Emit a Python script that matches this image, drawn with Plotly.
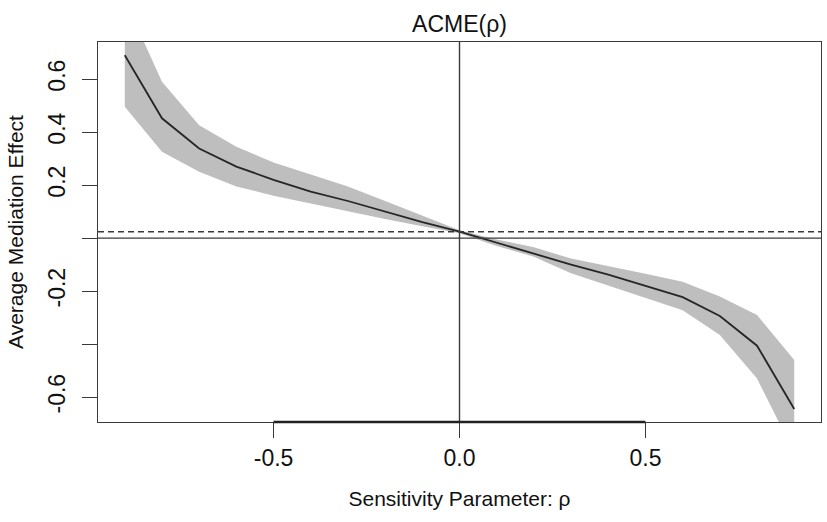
import plotly.graph_objects as go

# ---- data ----
rho = [-0.9, -0.8, -0.7, -0.6, -0.5, -0.4, -0.3, -0.2, -0.1, 0.0,
       0.1, 0.2, 0.3, 0.4, 0.5, 0.6, 0.7, 0.8, 0.9]
acme = [0.69, 0.452, 0.338, 0.27, 0.22, 0.175, 0.14, 0.10, 0.06, 0.024,
        -0.018, -0.06, -0.10, -0.138, -0.18, -0.223, -0.294, -0.406, -0.645]
ci_upper = [0.90, 0.59, 0.426, 0.345, 0.285, 0.24, 0.195, 0.14, 0.085, 0.03,
            -0.005, -0.035, -0.077, -0.105, -0.135, -0.165, -0.22, -0.29, -0.46]
ci_lower = [0.496, 0.326, 0.25, 0.195, 0.16, 0.13, 0.10, 0.072, 0.045, 0.018,
            -0.03, -0.07, -0.133, -0.18, -0.225, -0.272, -0.366, -0.53, -0.81]

x_ticks = [-0.5, 0.0, 0.5]
x_ticklabels = ["-0.5", "0.0", "0.5"]
y_ticks = [-0.6, -0.4, -0.2, 0.0, 0.2, 0.4, 0.6]
y_ticklabels = ["-0.6", "", "-0.2", "", "0.2", "0.4", "0.6"]

title_text = "ACME(ρ)"
x_title = "Sensitivity Parameter: ρ"
y_title = "Average Mediation Effect"

acme_at_zero = acme[rho.index(0.0)]

FONT = "Liberation Sans, Arial, Helvetica, sans-serif"
AXC = "#3a3a3a"

fig = go.Figure()
fig.add_trace(go.Scatter(x=rho, y=ci_lower, mode="lines",
                         line=dict(width=0, color="#bebebe"),
                         hoverinfo="skip", showlegend=False))
fig.add_trace(go.Scatter(x=rho, y=ci_upper, mode="lines",
                         line=dict(width=0, color="#bebebe"),
                         fill="tonexty", fillcolor="#bebebe",
                         hoverinfo="skip", showlegend=False))
fig.add_trace(go.Scatter(x=rho, y=acme, mode="lines",
                         line=dict(width=1.8, color="#262626"),
                         showlegend=False))

# reference lines
fig.add_shape(type="line", xref="paper", yref="y", x0=0, x1=1, y0=0, y1=0,
              line=dict(color=AXC, width=1.4))
fig.add_shape(type="line", xref="paper", yref="y", x0=0, x1=1,
              y0=acme_at_zero, y1=acme_at_zero,
              line=dict(color=AXC, width=1.4, dash="6px,4px"))
fig.add_shape(type="line", xref="x", yref="paper", x0=0, x1=0, y0=0, y1=1,
              line=dict(color=AXC, width=1.4))
# R-style axis line between first and last tick
fig.add_shape(type="line", xref="x", yref="paper", x0=x_ticks[0], x1=x_ticks[-1],
              y0=0, y1=0, line=dict(color="#222", width=2.4))

fig.update_layout(
    width=827, height=522,
    margin=dict(l=98, r=6, t=42, b=100, autoexpand=False),
    paper_bgcolor="white", plot_bgcolor="white",
    font=dict(family=FONT, color="#111"),
    title=dict(text=title_text, x=0.5, xref="paper", xanchor="center",
               y=1 - 24 / 522, yref="container", yanchor="middle",
               automargin=False,
               font=dict(size=23, family=FONT, color="#111")),
    showlegend=False,
)
fig.update_xaxes(range=[-0.972, 0.972], tickvals=x_ticks, ticktext=x_ticklabels,
                 ticks="outside", ticklen=15, tickwidth=1.4, tickcolor=AXC,
                 showline=True, linecolor=AXC, linewidth=1.4, mirror=True,
                 showgrid=False, zeroline=False, automargin=False,
                 tickfont=dict(size=23, family=FONT, color="#111"),
                 title=dict(text=x_title, font=dict(size=21, family=FONT, color="#111"),
                            standoff=21))
fig.update_yaxes(range=[-0.694, 0.740], tickvals=y_ticks, ticktext=y_ticklabels,
                 ticks="outside", ticklen=15, tickwidth=1.4, tickcolor=AXC,
                 tickangle=-90, ticklabelstandoff=8,
                 showline=True, linecolor=AXC, linewidth=1.4, mirror=True,
                 showgrid=False, zeroline=False, automargin=False,
                 tickfont=dict(size=23, family=FONT, color="#111"),
                 title=dict(text=y_title, font=dict(size=21, family=FONT, color="#111"),
                            standoff=14))

fig.write_html("out.html", config={"displayModeBar": False},
               post_script="document.body.style.margin='0';")
